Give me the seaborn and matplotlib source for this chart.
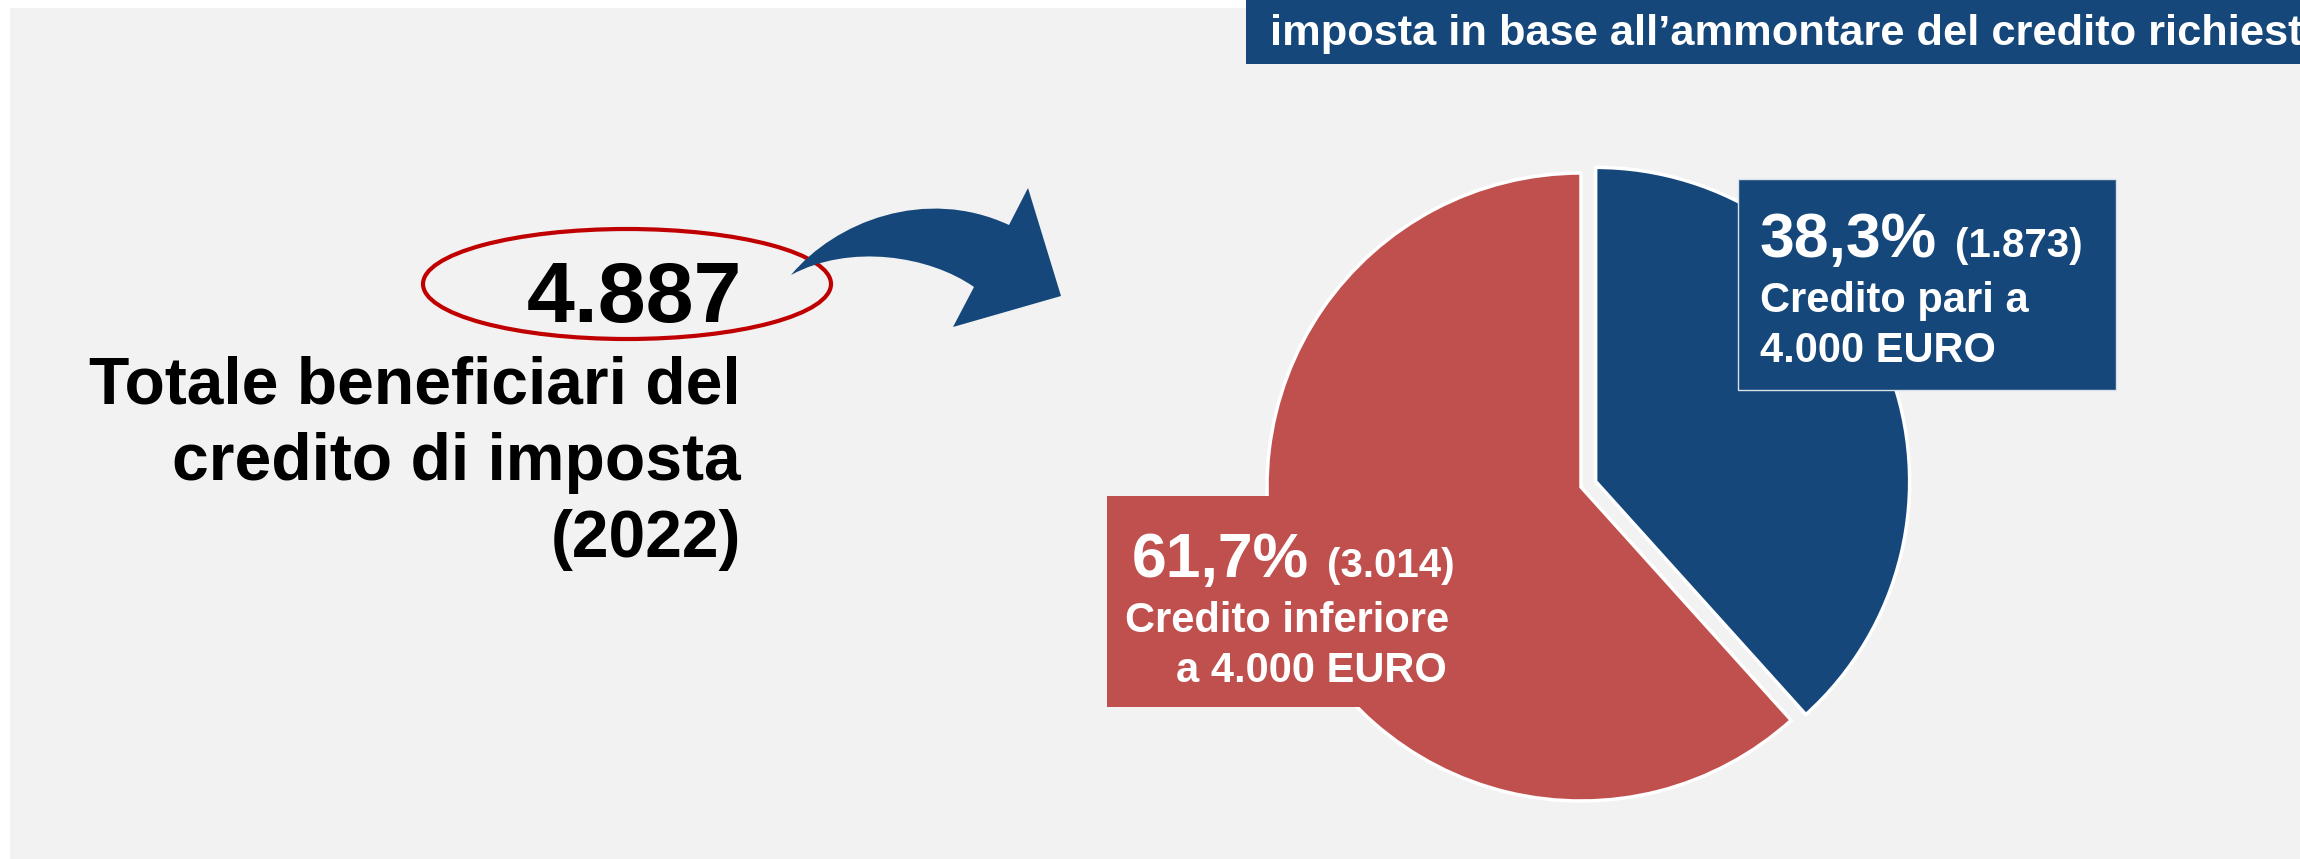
import numpy as np
import matplotlib
matplotlib.use("Agg")
import matplotlib.pyplot as plt
from matplotlib.patches import Rectangle, Ellipse, PathPatch
from matplotlib.path import Path
import seaborn as sns

# ---------------- data ----------------
categories = ["Credito pari a\n4.000 EURO", "Credito inferiore\na 4.000 EURO"]
counts = [1873, 3014]
title_text = "imposta in base all\u2019ammontare del credito richiesto"
left_caption = ["Totale beneficiari del", "credito di imposta", "(2022)"]

BLUE = "#15477A"
RED = "#C0504D"
GREY = "#F2F2F2"

sns.set_theme(style="white")
palette = sns.color_palette([BLUE, RED])
plt.rcParams["font.family"] = ["Liberation Sans", "DejaVu Sans"]

W, H = 2300, 859
fig = plt.figure(figsize=(W / 100, H / 100), dpi=100)
fig.patch.set_facecolor("white")


def fmt_int(v):
    return f"{v:,}".replace(",", ".")


def fmt_pct(p):
    return f"{p:.1f}".replace(".", ",") + "%"


total = sum(counts)
pcts = [c / total * 100 for c in counts]

# ---------------- background layer ----------------
ax_bg = fig.add_axes([0, 0, 1, 1], zorder=0)
ax_bg.set_xlim(0, W)
ax_bg.set_ylim(H, 0)
ax_bg.axis("off")
ax_bg.add_patch(Rectangle((10, 8), W - 10, H - 8, facecolor=GREY, edgecolor="none"))
ax_bg.add_patch(Rectangle((1246, 0), W - 1246, 64, facecolor=BLUE, edgecolor="none"))
ax_bg.text(1270, 45, title_text, color="white", fontsize=31.2, fontweight="bold",
           ha="left", va="baseline")

# total beneficiaries
ax_bg.text(742, 322, fmt_int(total), color="black", fontsize=62, fontweight="bold",
           ha="right", va="baseline")
for i, line in enumerate(left_caption):
    ax_bg.text(741, 403 + i * 77, line, color="black", fontsize=47.5, fontweight="bold",
               ha="right", va="baseline")
ax_bg.add_patch(Ellipse((627, 284), 408, 110, facecolor="none", edgecolor="#C00000", lw=3))

# curved arrow
verts = [(791, 275), (835, 222), (925, 186), (1009, 225),
         (1028, 188), (1061, 296), (953, 327), (974, 287),
         (930, 256), (850, 243), (791, 275), (791, 275)]
codes = [Path.MOVETO, Path.CURVE4, Path.CURVE4, Path.CURVE4,
         Path.LINETO, Path.LINETO, Path.LINETO, Path.LINETO,
         Path.CURVE4, Path.CURVE4, Path.CURVE4, Path.CLOSEPOLY]
ax_bg.add_patch(PathPatch(Path(verts, codes), facecolor=BLUE, edgecolor="none"))

# ---------------- pie ----------------
cx, cy, r = 1581, H - 487, 314
lim = 1.1
side = 2 * lim * r
ax_pie = fig.add_axes([(cx - side / 2) / W, (cy - side / 2) / H, side / W, side / H], zorder=1)
ax_pie.pie(counts, colors=palette, startangle=90, counterclock=False,
           explode=[0.05, 0], wedgeprops=dict(edgecolor="white", linewidth=2.5))
ax_pie.set_xlim(-lim, lim)
ax_pie.set_ylim(-lim, lim)
ax_pie.set_aspect("equal")
ax_pie.axis("off")

# ---------------- label boxes ----------------
ax_o = fig.add_axes([0, 0, 1, 1], zorder=2)
ax_o.set_xlim(0, W)
ax_o.set_ylim(H, 0)
ax_o.axis("off")
ax_o.patch.set_alpha(0)

boxes = [
    dict(rect=(1738, 179, 378, 211), color=palette[0], x=1760, base=257, edge="#D9E1EA"),
    dict(rect=(1107, 496, 416, 211), color=palette[1], x=1132, base=577, edge="none"),
]
line_x = [[1760, 1760], [1125, 1176]]

fig.canvas.draw()
renderer = fig.canvas.get_renderer()
inv = ax_o.transData.inverted()

for i, b in enumerate(boxes):
    x0, y0, bw, bh = b["rect"]
    ax_o.add_patch(Rectangle((x0, y0), bw, bh, facecolor=b["color"], edgecolor=b["edge"], lw=1))
    t1 = ax_o.text(b["x"], b["base"], fmt_pct(pcts[i]), color="white", fontsize=45,
                   fontweight="bold", ha="left", va="baseline")
    bb = t1.get_window_extent(renderer=renderer)
    xr = inv.transform((bb.x1, bb.y0))[0]
    ax_o.text(xr + 18, b["base"], f"({fmt_int(counts[i])})", color="white", fontsize=29,
              fontweight="bold", ha="left", va="baseline")
    for j, line in enumerate(categories[i].split("\n")):
        ax_o.text(line_x[i][j], b["base"] + 55 + j * 50, line, color="white", fontsize=30,
                  fontweight="bold", ha="left", va="baseline")

fig.savefig("out.png", dpi=100, facecolor=fig.get_facecolor())
